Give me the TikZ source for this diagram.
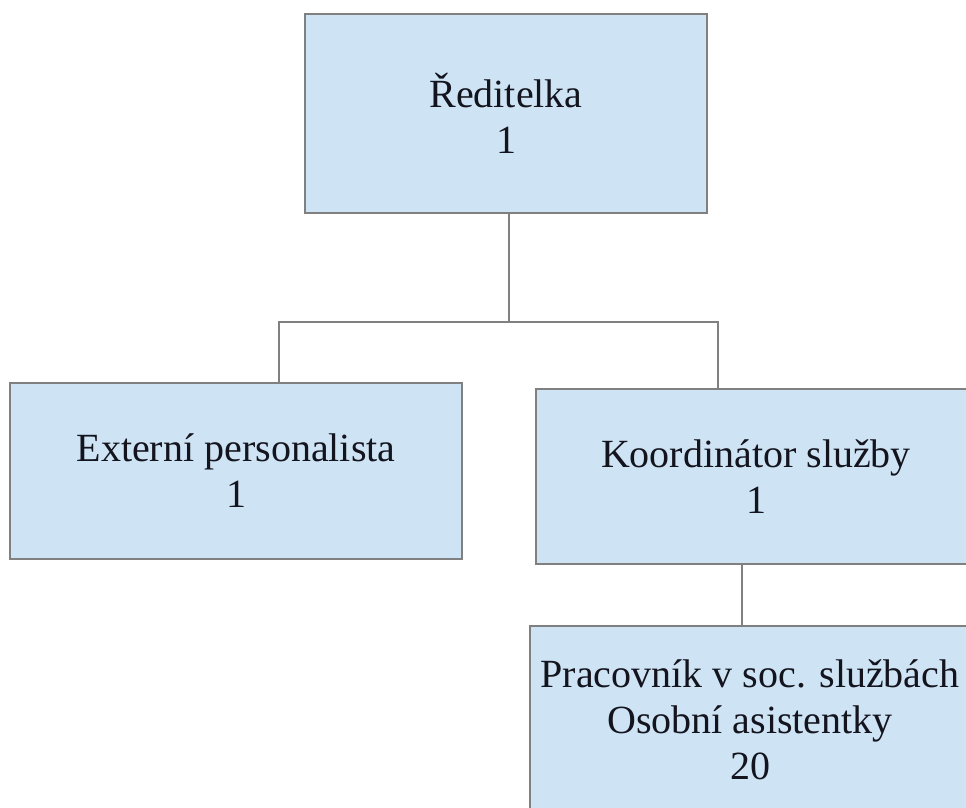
\documentclass[tikz,border=0pt]{standalone}
\usepackage{fontspec}
\setmainfont{Liberation Serif}
\definecolor{boxfill}{RGB}{206,228,244}
\definecolor{boxline}{RGB}{128,128,128}
\definecolor{txt}{RGB}{20,20,30}
\begin{document}
\begin{tikzpicture}[x=1pt,y=-1pt,
  orgbox/.style={draw=boxline, fill=boxfill, line width=1.5pt, inner sep=0pt,
    align=center, text=txt, font=\fontsize{40}{46}\selectfont},
  link/.style={draw=boxline, line width=1.5pt}]
\clip (0,0) rectangle (966,808);
\fill[white] (0,0) rectangle (966,808);
\node[orgbox, minimum width=402pt, minimum height=199pt] (top) at (506,113.5) {Ředitelka\\1};
\node[orgbox, minimum width=452pt, minimum height=176pt] (left) at (236,471) {Externí personalista\\1};
\node[orgbox, minimum width=440pt, minimum height=175pt] (right) at (756,476.5) {Koordinátor služby\\1};
\node[orgbox, minimum width=440pt, minimum height=188pt] (bottom) at (750,720) {Pracovník v soc. službách\\Osobní asistentky\\20};
\coordinate (j) at (509,322);
\coordinate (jl) at (279,322);
\coordinate (jr) at (718,322);
\coordinate (kb) at (742,0);
\draw[link] (j |- top.south) -- (j);
\draw[link] (jl |- left.north) -- (jl) -- (jr) -- (jr |- right.north);
\draw[link] (kb |- right.south) -- (kb |- bottom.north);
\end{tikzpicture}
\end{document}
